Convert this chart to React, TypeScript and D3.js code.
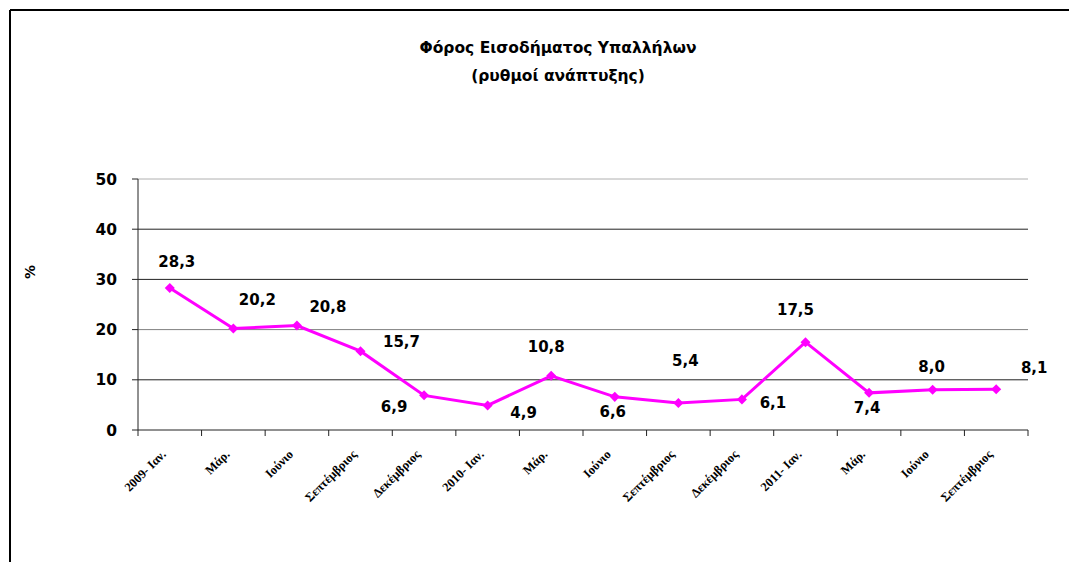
import React from "react";
import * as d3 from "d3";

const categories = [
  "2009- Ιαν.", "Μάρ.", "Ιούνιο", "Σεπτέμβριος", "Δεκέμβριος",
  "2010- Ιαν.", "Μάρ.", "Ιούνιο", "Σεπτέμβριος", "Δεκέμβριος",
  "2011- Ιαν.", "Μάρ.", "Ιούνιο", "Σεπτέμβριος",
];
const values = [28.3, 20.2, 20.8, 15.7, 6.9, 4.9, 10.8, 6.6, 5.4, 6.1, 17.5, 7.4, 8.0, 8.1];
const yTicks = [0, 10, 20, 30, 40, 50];
// label placement offsets (dx, dy) relative to the marker, as in the original
const labelDx = [7, 24, 31, 41, -30, 36, -5, -2, 7, 31, -10, -2, -1, 38];
const labelDy = [-26, -29, -19, -10, 11, 7, -29, 15, -42, 3, -33, 15, -23, -22];

const title1 = "Φόρος Εισοδήματος Υπαλλήλων";
const title2 = "(ρυθμοί ανάπτυξης)";
const yLabel = "%";

export default function App() {
  const W = 1069, H = 562;
  const left = 138, right = 1028, top = 179, bottom = 430;
  const x = d3.scaleBand<string>().domain(categories.map((_, i) => String(i))).range([left, right]);
  const y = d3.scaleLinear().domain([0, 50]).range([bottom, top]);
  const cx = (i: number) => (x(String(i)) as number) + x.bandwidth() / 2;
  const line = d3.line<number>().x((_, i) => cx(i)).y((d) => y(d));
  const font = "'DejaVu Sans', Verdana, sans-serif";
  const diamond = d3.symbol().type(d3.symbolDiamond2).size(64)() as string;
  const gridColor = (t: number) => (t === 50 ? "#b0b0b0" : t === 20 ? "#808080" : "#222");

  return (
    <svg width={W} height={H} style={{ position: "fixed", left: 0, top: 0, background: "#fff" }}>
      <rect x={0} y={0} width={W} height={H} fill="#fff" />
      <line x1={10} y1={10} x2={W} y2={10} stroke="#000" strokeWidth={2} />
      <line x1={10} y1={10} x2={10} y2={H} stroke="#000" strokeWidth={2} />

      <text x={558} y={53} textAnchor="middle" fontFamily={font} fontWeight="bold" fontSize={15.5}>{title1}</text>
      <text x={558} y={81} textAnchor="middle" fontFamily={font} fontWeight="bold" fontSize={15.5}>{title2}</text>

      <text x={0} y={0} textAnchor="middle" fontFamily={font} fontWeight="bold" fontSize={14}
        style={{ transform: "translate(35px,272px) rotate(-90deg)", transformOrigin: "0px 0px" }}>{yLabel}</text>

      {yTicks.map((t) => (
        <g key={t}>
          {t > 0 && (
            <line x1={left} x2={right} y1={y(t)} y2={y(t)} stroke={gridColor(t)} strokeWidth={1} />
          )}
          <line x1={left - 6} x2={left} y1={y(t)} y2={y(t)} stroke="#222" />
          <text x={117} y={y(t)} dy="0.36em" textAnchor="end" fontFamily={font} fontWeight="bold" fontSize={15.5}>{t}</text>
        </g>
      ))}
      <line x1={left} x2={left} y1={top} y2={bottom} stroke="#222" />
      <line x1={left} x2={right} y1={bottom} y2={bottom} stroke="#222" />
      {categories.map((_, i) => (
        <line key={i} x1={x(String(i)) as number} x2={x(String(i)) as number} y1={bottom} y2={bottom + 6} stroke="#222" />
      ))}
      <line x1={right} x2={right} y1={bottom} y2={bottom + 6} stroke="#222" />

      {categories.map((c, i) => (
        <text key={i} x={0} y={0} textAnchor="end"
          style={{ transform: `translate(${cx(i) - 3}px, ${bottom + 25}px) rotate(-45deg)`, transformOrigin: "0px 0px" }}
          fontFamily="'Liberation Serif', 'DejaVu Serif', serif" fontWeight="bold" fontSize={12.5}>{c}</text>
      ))}

      <path d={line(values) as string} fill="none" stroke="#ff00ff" strokeWidth={3} />
      {values.map((v, i) => (
        <path key={i} d={diamond} transform={`translate(${cx(i)},${y(v)})`} fill="#ff00ff" />
      ))}
      {values.map((v, i) => (
        <text key={i} x={cx(i) + labelDx[i]} y={y(v) + labelDy[i]} dy="0.36em" textAnchor="middle"
          fontFamily={font} fontWeight="bold" fontSize={15}>{d3.format(".1f")(v).replace(".", ",")}</text>
      ))}
    </svg>
  );
}
